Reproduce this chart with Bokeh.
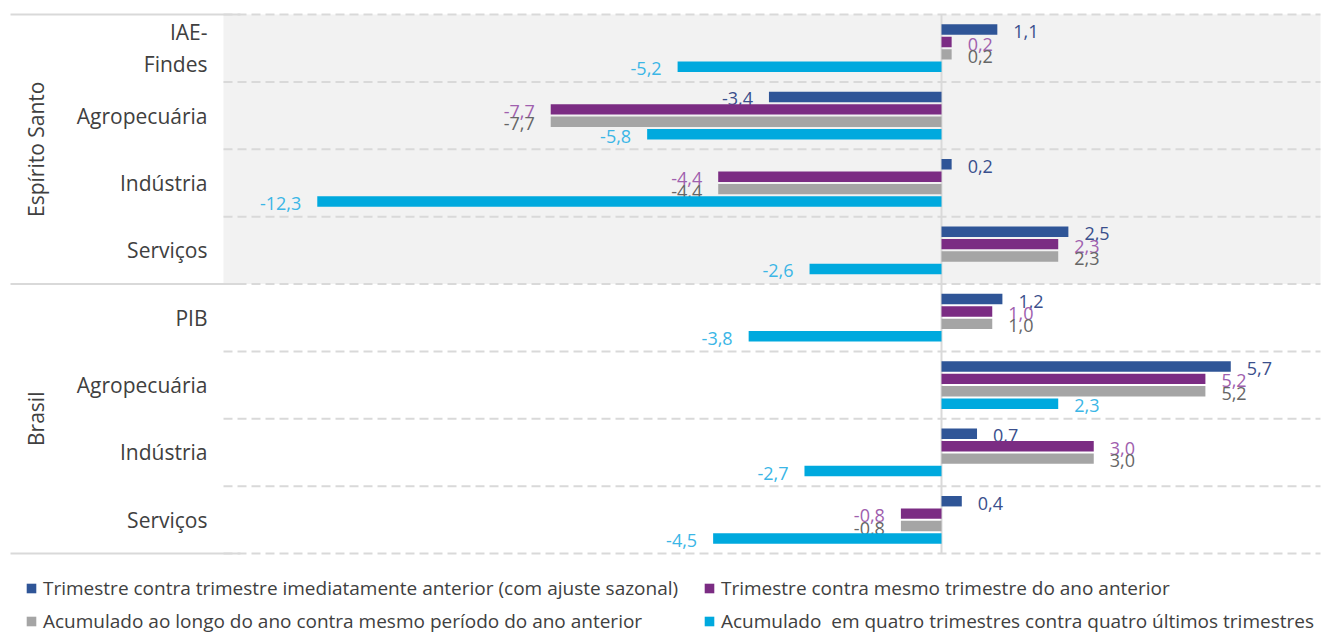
import math
import numpy as np
from bokeh.plotting import figure
from bokeh.models import Range1d, ColumnDataSource, Legend, LegendItem
from bokeh.core.properties import value
from bokeh.embed import file_html
from bokeh.resources import INLINE

# ---------------- data ----------------
categories = ["IAE-\nFindes", "Agropecuária", "Indústria", "Serviços",
              "PIB", "Agropecuária", "Indústria", "Serviços"]
groups = ["Espírito Santo", "Brasil"]
group_sizes = [4, 4]

series_names = [
    "Trimestre contra trimestre imediatamente anterior (com ajuste sazonal)",
    "Trimestre contra mesmo trimestre do ano anterior",
    "Acumulado ao longo do ano contra mesmo período do ano anterior",
    "Acumulado  em quatro trimestres contra quatro últimos trimestres",
]
tri_vs_anterior = [1.1, -3.4, 0.2, 2.5, 1.2, 5.7, 0.7, 0.4]
tri_vs_mesmo = [0.2, -7.7, -4.4, 2.3, 1.0, 5.2, 3.0, -0.8]
acum_ano = [0.2, -7.7, -4.4, 2.3, 1.0, 5.2, 3.0, -0.8]
acum_4tri = [-5.2, -5.8, -12.3, -2.6, -3.8, 2.3, -2.7, -4.5]
series_values = [tri_vs_anterior, tri_vs_mesmo, acum_ano, acum_4tri]

# ---------------- style ----------------
bar_colors = ["#2F5597", "#7B2C83", "#A5A5A5", "#00A9DE"]
label_colors = ["#3A4F8C", "#A060AE", "#666666", "#3BB6E6"]
FONT = "Open Sans"

W, H = 1330, 634
PX0 = 941.0          # pixel of value zero
PX_PER_UNIT = 50.75
TOP, BOTTOM = 14.0, 553.0
PLOT_L, PLOT_R = 223.0, 1320.0
n = len(categories)
band_px = (BOTTOM - TOP) / n


def xd(px):
    return (px - PX0) / PX_PER_UNIT


def yd(py):
    return (py - TOP) / band_px - 0.5


p = figure(width=W, height=H,
           x_range=Range1d(xd(0), xd(W)),
           y_range=Range1d(yd(H), yd(0)),
           output_backend="svg", toolbar_location=None, min_border=0)
p.axis.visible = False
p.grid.visible = False
p.outline_line_color = None
p.background_fill_color = "white"
p.border_fill_color = "white"

# shaded first group
first_end = group_sizes[0] - 0.5
p.quad(left=[xd(PLOT_L)], right=[xd(PLOT_R)], top=[-0.5], bottom=[first_end],
       fill_color="#F2F2F2", line_color=None)

# separators
bounds = [k - 0.5 for k in range(n + 1)]
p.segment(x0=[xd(PLOT_L)] * len(bounds), x1=[xd(PLOT_R)] * len(bounds),
          y0=bounds, y1=bounds, line_color="#D9D9D9", line_width=2, line_dash="9 5")
gb = [-0.5]
acc = -0.5
for g in group_sizes:
    acc += g
    gb.append(acc)
p.segment(x0=[xd(10)] * len(gb), x1=[xd(240)] * len(gb), y0=gb, y1=gb,
          line_color="#D9D9D9", line_width=2)

# zero line
p.segment(x0=[0], x1=[0], y0=[-0.5], y1=[n - 0.5], line_color="#D9D9D9", line_width=2)

# bars
offsets = [-0.276, -0.092, 0.092, 0.276]
bar_h = 0.155
renderers = []
idx = np.arange(n)
for vals, off, c, lc in zip(series_values, offsets, bar_colors, label_colors):
    ys = idx + off
    r = p.hbar(y=ys, left=0, right=vals, height=bar_h, fill_color=c, line_color=None)
    renderers.append(r)
    texts = [f"{v:.1f}".replace(".", ",") for v in vals]
    pos = [i for i, v in enumerate(vals) if v >= 0]
    neg = [i for i, v in enumerate(vals) if v < 0]
    for sel, align, xo in ((pos, "left", 16), (neg, "right", -16)):
        if not sel:
            continue
        src = ColumnDataSource(dict(x=[vals[i] for i in sel],
                                    y=[ys[i] + 0.03 for i in sel],
                                    t=[texts[i] for i in sel]))
        p.text(x="x", y="y", text="t", source=src, text_align=align, x_offset=xo,
               text_baseline="middle", text_font=value(FONT), text_font_size="18px",
               text_color=lc)

# category labels
p.text(x=[xd(207)] * n, y=list(range(n)), text=categories, text_align="right",
       text_baseline="middle", text_font=value(FONT), text_font_size="21px",
       text_color="#404040", text_line_height=1.15)

# group labels
gcent = []
start = 0
for g in group_sizes:
    gcent.append(start + (g - 1) / 2)
    start += g
p.text(x=[xd(35)] * len(groups), y=gcent, text=groups, angle=math.pi / 2,
       text_align="center", text_baseline="middle", text_font=value(FONT),
       text_font_size="21px", text_color="#404040")

# legends
def make_legend(items, x, y):
    lg = Legend(items=items, location=(x, y), orientation="vertical",
                label_text_font=FONT, label_text_font_size="19px",
                label_text_color="#404040", glyph_width=12, glyph_height=12,
                label_standoff=6, spacing=7, padding=0, margin=0,
                border_line_alpha=0, background_fill_alpha=0, label_height=20)
    p.add_layout(lg)

make_legend([LegendItem(label=series_names[0], renderers=[renderers[0]]),
             LegendItem(label=series_names[2], renderers=[renderers[2]])], 25, 0)
make_legend([LegendItem(label=series_names[1], renderers=[renderers[1]]),
             LegendItem(label=series_names[3], renderers=[renderers[3]])], 703, 0)

open("out.html", "w").write(file_html(p, INLINE))
